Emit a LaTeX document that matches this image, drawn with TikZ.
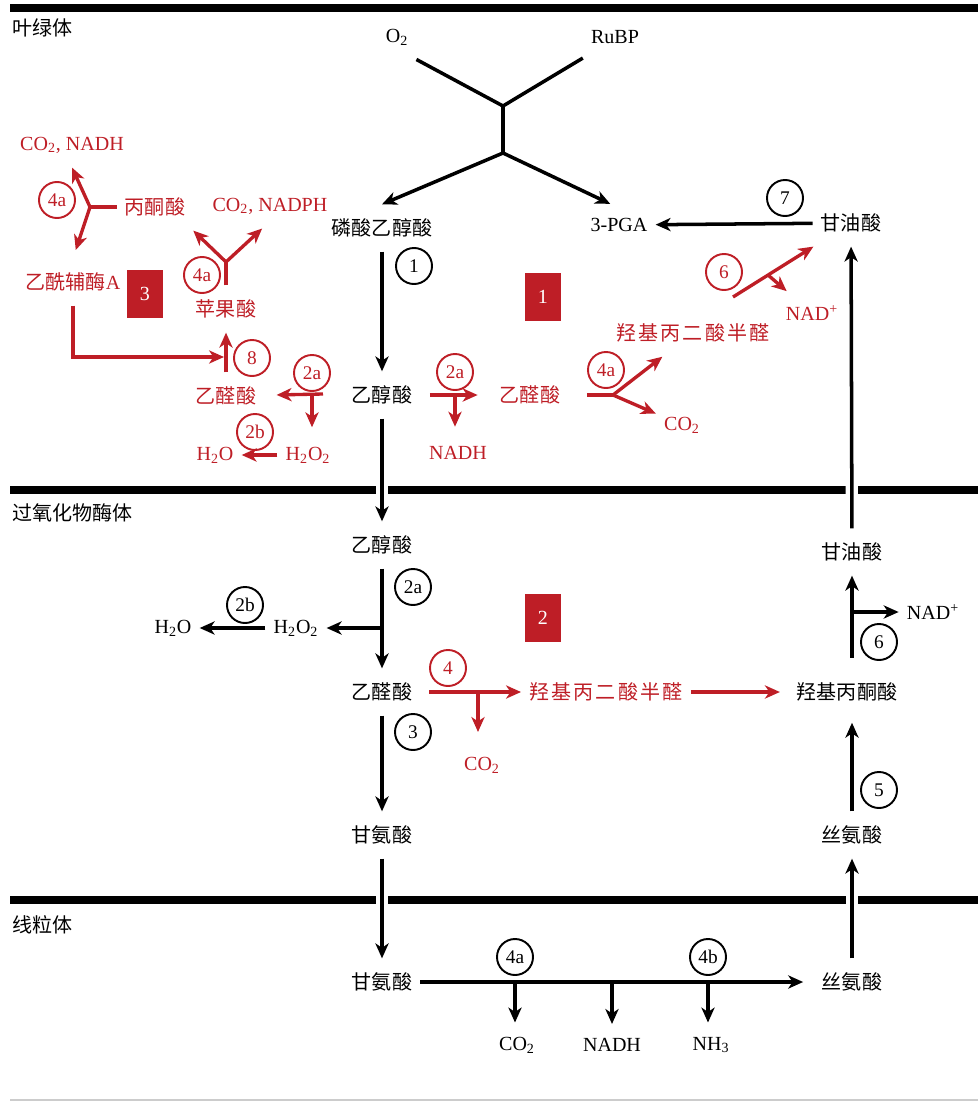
\documentclass[tikz,border=0pt]{standalone}
\usepackage{fontspec}
\setmainfont{Liberation Serif}
\newfontfamily\cjk{Noto Sans CJK SC}
\newfontfamily\cjkwide[LetterSpace=11]{Noto Sans CJK SC}
\usetikzlibrary{arrows.meta}
\definecolor{rxn}{RGB}{190,30,38}
\tikzset{
  every node/.style={font=\fontsize{11.4}{13.7}\selectfont},
  met/.style={inner xsep=4.5pt,inner ysep=8pt},
  rmet/.style={met,text=rxn},
  region/.style={anchor=west,inner sep=0pt},
  enz/.style={circle,draw,line width=1.1pt,minimum size=20.5pt,inner sep=0pt,font=\fontsize{11}{12}\selectfont},
  renz/.style={enz,draw=rxn,text=rxn},
  rbox/.style={fill=rxn,text=white,minimum width=20pt,minimum height=27pt,inner sep=0pt},
  flow/.style={line width=2pt,-{Stealth[length=8.5pt,width=7.5pt,inset=2.5pt]}},
  rflow/.style={flow,draw=rxn,line width=1.9pt},
  rline/.style={draw=rxn,line width=1.9pt},
  membrane/.style={line width=4pt},
  gapped/.style={preaction={draw=white,line width=7pt,-}}
}
\begin{document}
\begin{tikzpicture}[x=0.02cm,y=-0.02cm]
\useasboundingbox (0,0) rectangle (978,1102);
% membranes
\draw[membrane] (10,8) -- (978,8);
\draw[membrane] (10,490) -- (978,490);
\draw[membrane] (10,900) -- (978,900);
\draw[gray!40,line width=0.6pt] (10,1100) -- (978,1100);
\node[region] (chl) at (12,28) {\cjk 叶绿体};
\node[region] (perox) at (12,513) {\cjk 过氧化物酶体};
\node[region] (mito) at (12,925) {\cjk 线粒体};

% chloroplast
\node[met] (o2) at (397,37) {O\textsubscript{2}};
\node[met] (rubp) at (615,37) {RuBP};
\node[met] (pgl) at (382,228) {\cjk 磷酸乙醇酸};
\node[met] (pga) at (619,225) {3-PGA};
\node[met] (gly1) at (851,223) {\cjk 甘油酸};
\node[met] (gla1) at (382,395) {\cjk 乙醇酸};
\node[rmet] (glx1) at (530,395) {\cjk 乙醛酸};
\node[rmet] (nadh1) at (458,453) {NADH};
\node[rmet] (hpa1) at (693,333) {\cjkwide 羟基丙二酸半醛};
\node[rmet] (co2a) at (682,425) {CO\textsubscript{2}};
\node[rmet] (nadp1) at (812,313) {NAD\textsuperscript{+}};
\node[rmet] (glxL) at (226,396) {\cjk 乙醛酸};
\node[rmet] (h2o2L) at (308,455) {H\textsubscript{2}O\textsubscript{2}};
\node[rmet] (h2oL) at (215,455) {H\textsubscript{2}O};
\node[rmet] (mal) at (226,309) {\cjk 苹果酸};
\node[rmet] (acoa) at (73,282) {{\cjk 乙酰辅酶}A};
\node[rmet] (pyr) at (155,207) {\cjk 丙酮酸};
\node[rmet] (nadph) at (270,206) {CO\textsubscript{2}, NADPH};
\node[rmet] (nadh2) at (72,145) {CO\textsubscript{2}, NADH};

\coordinate (j1) at (503,106);
\coordinate (j2) at (503,153);
\coordinate (b2a) at (455,395);
\coordinate (y4) at (613,395);
\coordinate (s6) at (733,297);
\coordinate (b6) at (768,275);
\coordinate (s2aL) at (323,394);
\coordinate (b2aL) at (312,394);
\coordinate (j8) at (224,357);
\coordinate (jm) at (226,262);
\coordinate (jp) at (90,207);

\draw[line width=2pt] (o2.south east) -- (j1) -- (rubp.south west);
\draw[line width=2pt] (j1) -- (j2);
\draw[flow] (j2) -- (pgl.north);
\draw[flow] (j2) -- ([xshift=-5pt]pga.north);
\draw[flow] (gly1) -- (pga);
\draw[flow] (pgl) -- (gla1);
\draw[rflow,shorten <=5.5pt,shorten >=8pt] (gla1) -- (glx1);
\draw[rflow,shorten >=3pt] (b2a) -- (b2a |- nadh1.north);
\draw[rline,shorten <=10.5pt] (glx1) -- (y4);
\draw[rflow] (y4) -- (hpa1);
\draw[rflow] (y4) -- (co2a);
\draw[rflow] (s6) -- (gly1);
\draw[rflow] (b6) -- (nadp1);
\draw[rflow,shorten >=7pt] (s2aL) -- (glxL);
\draw[rflow,shorten >=3pt] (b2aL) -- (b2aL |- h2o2L.north);
\draw[rflow] (h2o2L) -- (h2oL);
\draw[rflow] (glxL) -- (mal);
\draw[rflow] (acoa.south) |- (j8);
\draw[rline] (mal) -- (jm);
\draw[rflow] (jm) -- (pyr.south east);
\draw[rflow] (jm) -- ([xshift=-4.5pt]nadph.south);
\draw[rline] (pyr) -- (jp);
\draw[rflow] (jp) -- (nadh2.south);
\draw[rflow,shorten >=5pt] (jp) -- (acoa.north);

\node[enz] (e1) at (414,266) {1};
\node[enz] (e7) at (785,198) {7};
\node[renz] (r2a) at (455,372) {2a};
\node[renz] (r4a) at (606,370) {4a};
\node[renz] (r6) at (724,272) {6};
\node[renz] (r2aL) at (312,373) {2a};
\node[renz] (r2bL) at (255,432) {2b};
\node[renz] (r8) at (252,358) {8};
\node[renz] (r4aM) at (202,275) {4a};
\node[renz] (r4aP) at (57,200) {4a};
\node[rbox] (box1) at (543,297) {1};
\node[rbox] (box3) at (145,294) {3};

% peroxisome
\node[met] (gla2) at (382,545) {\cjk 乙醇酸};
\node[met] (h2o2p) at (296,628) {H\textsubscript{2}O\textsubscript{2}};
\node[met] (h2op) at (173,628) {H\textsubscript{2}O};
\node[met] (glx2) at (382,692) {\cjk 乙醛酸};
\node[rmet] (hpa2) at (606,692) {\cjkwide 羟基丙二酸半醛};
\node[rmet] (co2p) at (482,765) {CO\textsubscript{2}};
\node[met] (hp) at (847,692) {\cjk 羟基丙酮酸};
\node[met] (gly2) at (852,552) {\cjk 甘油酸};
\node[met] (nadp2) at (933,612) {NAD\textsuperscript{+}};
\node[met] (ser1) at (852,835) {\cjk 丝氨酸};
\node[met] (gly3) at (382,835) {\cjk 甘氨酸};

\coordinate (b2aP) at (382,628);
\coordinate (b4) at (478,692);
\coordinate (b6P) at (852,612);

\draw[flow,gapped] (gla1) -- (gla2);
\draw[flow] (gla2) -- (glx2);
\draw[flow] (b2aP) -- (h2o2p);
\draw[flow] (h2o2p) -- (h2op);
\draw[flow] (glx2) -- (gly3);
\draw[rflow,shorten <=5pt] (glx2) -- (hpa2);
\draw[rflow,shorten >=6pt] (b4) -- (b4 |- co2p.north);
\draw[rflow,shorten >=5pt] (hpa2) -- (hp);
\draw[flow,shorten >=4pt] (ser1) -- (ser1 |- hp.south);
\draw[flow,shorten <=6pt] (ser1 |- hp.north) -- (gly2);
\draw[flow] (b6P) -- (nadp2);
\draw[flow,gapped] (gly2) -- (gly1);

\node[enz] (e2a) at (413,587) {2a};
\node[enz] (e2b) at (245,605) {2b};
\node[enz] (e3) at (413,732) {3};
\node[enz] (e6) at (879,642) {6};
\node[enz] (e5) at (879,790) {5};
\node[renz] (r4) at (448,668) {4};
\node[rbox] (box2) at (543,618) {2};

% mitochondrion
\node[met] (gly4) at (382,982) {\cjk 甘氨酸};
\node[met] (ser2) at (852,982) {\cjk 丝氨酸};
\node[met] (co2m) at (517,1045) {CO\textsubscript{2}};
\node[met] (nadhm) at (612,1045) {NADH};
\node[met] (nh3) at (711,1045) {NH\textsubscript{3}};

\coordinate (m1) at (515,982);
\coordinate (m2) at (612,982);
\coordinate (m3) at (708,982);

\draw[flow,gapped] (gly3) -- (gly4);
\draw[flow,shorten >=6pt] (gly4) -- (ser2);
\draw[flow] (m1) -- (m1 |- co2m.north);
\draw[flow] (m2) -- (nadhm);
\draw[flow] (m3) -- (m3 |- nh3.north);
\draw[flow,gapped] (ser2) -- (ser1);

\node[enz] (e4a) at (515,957) {4a};
\node[enz] (e4b) at (708,957) {4b};
\end{tikzpicture}
\end{document}
